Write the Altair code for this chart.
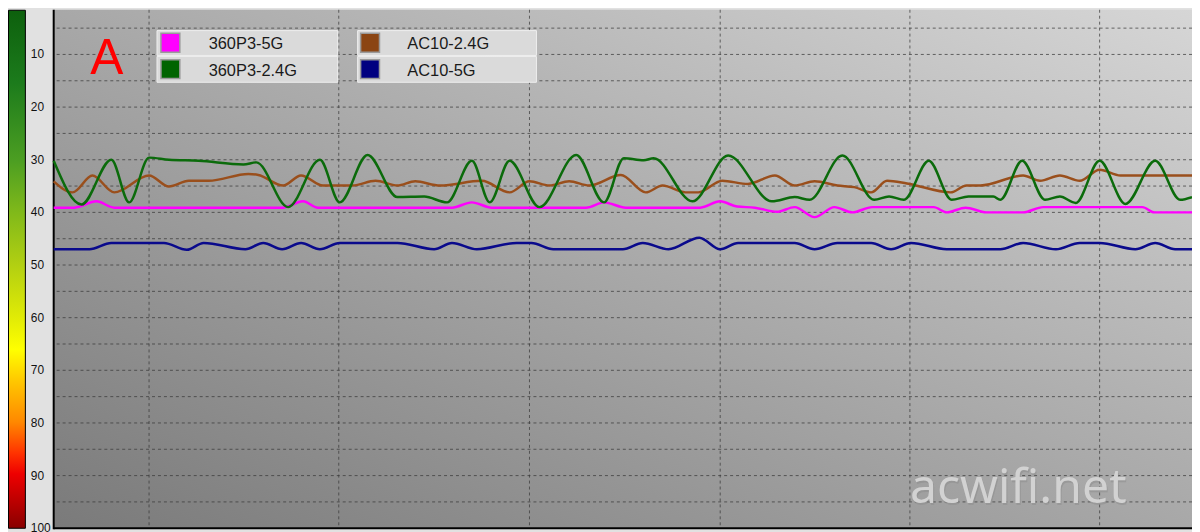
import altair as alt
import pandas as pd

# ---------------- data ----------------
# time axis: arbitrary sample units, plot spans 0..1146
names = ["360P3-5G", "360P3-2.4G", "AC10-2.4G", "AC10-5G"]
line_colors = ["#ff00ff", "#0b6b0b", "#9a4f1c", "#0a0a8c"]
swatch_colors = ["#ff00ff", "#006400", "#8b4513", "#000080"]

p5_t = [0, 21, 43, 61, 231, 251, 266, 401, 421, 441, 536, 554, 576, 651, 671, 688, 706, 728,
        746, 766, 786, 804, 824, 886, 899, 918, 939, 976, 996, 1096, 1108, 1146]
p5_v = [39.1, 39.1, 37.9, 39.1, 39.1, 37.9, 39.1, 39.1, 38.1, 39.1, 39.1, 38.1, 39.1, 39.1, 37.9,
        38.9, 39.1, 39.9, 39.0, 40.9, 39.0, 40.0, 39.0, 39.0, 40.0, 39.1, 40.0, 40.0, 39.0, 39.0,
        40.0, 40.0]

p24_t = [0, 28, 58, 76, 96, 116, 146, 191, 204, 236, 268, 288, 316, 346, 373, 396, 421, 439, 459,
         489, 526, 554, 574, 594, 604, 643, 679, 723, 746, 761, 794, 826, 841, 856, 881, 904, 921,
         946, 953, 975, 998, 1013, 1029, 1053, 1079, 1109, 1134, 1146]
p24_v = [30.2, 38.5, 30.0, 38.1, 29.6, 30.0, 30.2, 30.9, 30.5, 39.0, 30.0, 38.1, 29.1, 37.1, 37.0,
         38.1, 30.2, 38.1, 30.2, 39.0, 29.1, 38.1, 29.7, 30.1, 29.7, 37.9, 29.2, 37.9, 37.1, 37.6,
         29.2, 37.6, 37.0, 37.6, 30.2, 37.6, 37.0, 37.0, 37.6, 30.2, 37.6, 37.0, 38.2, 30.2, 38.4,
         30.2, 37.6, 37.1]

a24_t = [0, 19, 39, 61, 96, 116, 136, 156, 196, 206, 231, 249, 271, 301, 324, 346, 364, 389, 431,
         459, 479, 499, 519, 539, 571, 596, 613, 636, 649, 673, 699, 726, 746, 766, 789, 806, 823,
         839, 859, 903, 919, 933, 976, 993, 1013, 1033, 1053, 1074, 1146]
a24_v = [34.1, 36.2, 33.0, 36.2, 33.0, 35.1, 34.0, 34.0, 32.7, 32.9, 34.9, 33.0, 34.9, 34.9, 34.0,
         34.9, 34.1, 34.9, 34.0, 36.2, 34.1, 34.9, 34.1, 34.9, 32.9, 36.2, 34.9, 36.2, 36.2, 34.0,
         34.6, 33.0, 34.9, 34.1, 34.9, 35.2, 36.2, 34.0, 34.5, 36.2, 34.9, 34.9, 33.0, 34.0, 33.0,
         34.0, 31.9, 33.0, 33.0]

a5_t = [0, 36, 58, 111, 134, 151, 193, 211, 230, 249, 268, 288, 346, 383, 401, 426, 466, 481, 503,
        573, 593, 619, 650, 671, 689, 746, 766, 789, 823, 843, 863, 899, 953, 976, 1009, 1033, 1053,
        1089, 1109, 1129, 1146]
a5_v = [47.0, 47.0, 45.8, 45.8, 47.1, 45.8, 47.0, 45.8, 47.0, 45.8, 47.0, 45.8, 45.8, 47.0, 45.8,
        47.0, 45.8, 45.8, 47.0, 47.0, 45.8, 47.0, 44.8, 47.0, 45.8, 45.8, 47.0, 45.8, 45.8, 47.0,
        45.8, 47.0, 47.0, 45.8, 47.0, 45.8, 45.8, 47.0, 45.8, 47.0, 47.0]

series_t = [p5_t, p24_t, a24_t, a5_t]
series_v = [p5_v, p24_v, a24_v, a5_v]

y_tick_values = [0, 10, 20, 30, 40, 50, 60, 70, 80, 90, 100]
y_grid_values = [5, 10, 15, 20, 25, 30, 35, 40, 45, 50, 55, 60, 65, 70, 75, 80, 85, 90, 95]
x_grid_values = [96, 287, 479, 671, 862, 1053]

# ---------------- chart ----------------
W, H = 1146, 524
TOP, BOT = 0, H - 2
xs = alt.Scale(domain=[0, 1146], nice=False, zero=False)
ys = alt.Scale(domain=[1.51, 100.38], reverse=True, nice=False, zero=False)

one = pd.DataFrame({"k": [0]})

bg_grad = alt.LinearGradient(
    gradient="linear", x1=0, y1=1, x2=1, y2=0,
    stops=[alt.GradientStop(color="#7a7a7a", offset=0),
           alt.GradientStop(color="#a8a8a8", offset=0.5),
           alt.GradientStop(color="#d6d6d6", offset=1)])

bar_grad = alt.LinearGradient(
    gradient="linear", x1=0, y1=0, x2=0, y2=1,
    stops=[alt.GradientStop(color="#0d600d", offset=0),
           alt.GradientStop(color="#1c7b1c", offset=0.14),
           alt.GradientStop(color="#4c9e22", offset=0.29),
           alt.GradientStop(color="#80b91a", offset=0.39),
           alt.GradientStop(color="#b1cf12", offset=0.49),
           alt.GradientStop(color="#dfea06", offset=0.59),
           alt.GradientStop(color="#ffff00", offset=0.655),
           alt.GradientStop(color="#ffc800", offset=0.715),
           alt.GradientStop(color="#ff8800", offset=0.795),
           alt.GradientStop(color="#ff3300", offset=0.855),
           alt.GradientStop(color="#ee0000", offset=0.895),
           alt.GradientStop(color="#b00000", offset=0.96),
           alt.GradientStop(color="#880000", offset=1)])

layers = []

layers.append(alt.Chart(one).mark_rect(fill=bg_grad).encode(
    x=alt.value(0), x2=alt.value("width"), y=alt.value(TOP), y2=alt.value(BOT)))

layers.append(alt.Chart(pd.DataFrame({"v": y_grid_values})).mark_rule(
    color="#3a3a3a", strokeDash=[3, 3], strokeWidth=1, opacity=0.75).encode(
    y=alt.Y("v:Q", scale=ys, axis=None)))
layers.append(alt.Chart(pd.DataFrame({"t": x_grid_values})).mark_rule(
    color="#3a3a3a", strokeDash=[3, 3], strokeWidth=1, opacity=0.75).encode(
    x=alt.X("t:Q", scale=xs, axis=None), y=alt.value(TOP), y2=alt.value(BOT)))

# colour bar and tick labels on the left
layers.append(alt.Chart(one).mark_rect(fill=bar_grad, stroke="black", strokeWidth=1).encode(
    x=alt.value(-45.5), x2=alt.value(-28.5), y=alt.value(TOP + 0.5), y2=alt.value(BOT)))
layers.append(alt.Chart(pd.DataFrame({"v": y_tick_values, "label": [str(v) for v in y_tick_values]}))
              .mark_text(align="left", baseline="middle", fontSize=12, font="Liberation Sans", color="#111111")
              .encode(x=alt.value(-23), y=alt.Y("v:Q", scale=ys, axis=None), text="label:N"))

# plot frame
layers.append(alt.Chart(one).mark_rule(color="black", strokeWidth=2).encode(
    x=alt.value(0), y=alt.value(TOP), y2=alt.value(BOT + 1)))
layers.append(alt.Chart(one).mark_rule(color="black", strokeWidth=2).encode(
    x=alt.value(0), x2=alt.value("width"), y=alt.value(BOT)))

# series lines
for idx in [0, 3, 2, 1]:
    df = pd.DataFrame({"t": series_t[idx], "v": series_v[idx]})
    layers.append(alt.Chart(df).mark_line(color=line_colors[idx], strokeWidth=2.5,
                                          interpolate="monotone").encode(
        x=alt.X("t:Q", scale=xs, axis=None), y=alt.Y("v:Q", scale=ys, axis=None)))

# legend boxes
box_x = [104, 306]
box_x2 = [286, 486]
row_y = [21, 47]
row_y2 = [46, 73]
sw_x = [108, 309]
sw_y = [23.7, 50.3]
txt_x = [156, 356]
txt_y = [40, 67]
for i, name in enumerate(names):
    c, r = i // 2, i % 2
    layers.append(alt.Chart(one).mark_rect(fill="#dadada", stroke="#efefef", strokeWidth=1).encode(
        x=alt.value(box_x[c]), x2=alt.value(box_x2[c]), y=alt.value(row_y[r]), y2=alt.value(row_y2[r])))
    layers.append(alt.Chart(one).mark_rect(fill=swatch_colors[i], stroke="#9a9a9a", strokeWidth=1.5).encode(
        x=alt.value(sw_x[c]), x2=alt.value(sw_x[c] + 19), y=alt.value(sw_y[r]), y2=alt.value(sw_y[r] + 19)))
    layers.append(alt.Chart(pd.DataFrame({"n": [name]})).mark_text(
        align="left", baseline="alphabetic", fontSize=16.5, font="Liberation Sans", color="#1a1a1a").encode(
        x=alt.value(txt_x[c]), y=alt.value(txt_y[r]), text="n:N"))

# big red "A"
layers.append(alt.Chart(pd.DataFrame({"n": ["A"]})).mark_text(
    align="center", baseline="alphabetic", fontSize=50, font="Liberation Sans", color="#ff0000").encode(
    x=alt.value(53.5), y=alt.value(65), text="n:N"))

# watermark
layers.append(alt.Chart(pd.DataFrame({"n": ["acwifi.net"]})).mark_text(
    align="left", baseline="alphabetic", fontSize=48.5, font="Noto Sans", color="#8a8a8a", opacity=0.45,
    dx=1, dy=2).encode(x=alt.value(862), y=alt.value(497), text="n:N"))
layers.append(alt.Chart(pd.DataFrame({"n": ["acwifi.net"]})).mark_text(
    align="left", baseline="alphabetic", fontSize=48.5, font="Noto Sans", color="#d2d2d2").encode(
    x=alt.value(862), y=alt.value(497), text="n:N"))

chart = alt.layer(*layers).properties(
    width=W, height=H,
    autosize=alt.AutoSizeParams(type="none"),
    padding={"left": 46, "top": 0, "right": 0, "bottom": 0},
    background="#e1e1e1",
).configure_view(stroke=None)

chart.save("out.html", embed_options={"renderer": "svg", "actions": False})
